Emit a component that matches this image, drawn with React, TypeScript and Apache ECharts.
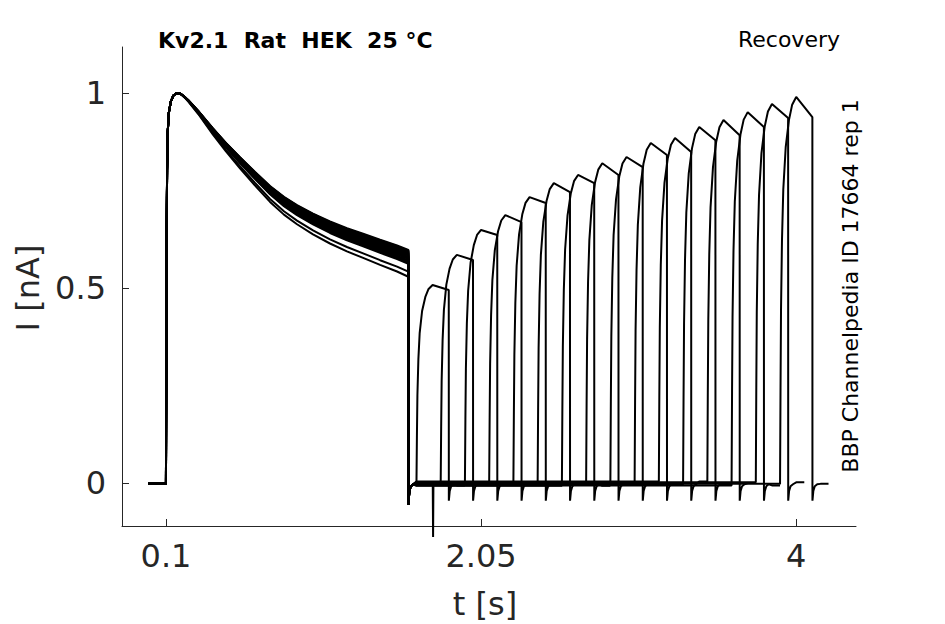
import React, { useEffect, useRef } from "react";
import * as echarts from "echarts";

// ---- axis ticks ----
const xTicks = [0.1, 2.05, 4];
const xTickLabels = ["0.1", "2.05", "4"];
const yTicks = [0, 0.5, 1];
const yTickLabels = ["0", "0.5", "1"];

// ---- first pulse (P1): shared shape of the upper band ----
const p1Time = [-0.01, 0.099, 0.1, 0.102, 0.104, 0.107, 0.111, 0.118, 0.13, 0.145, 0.165, 0.19, 0.215, 0.24, 0.3, 0.391, 0.47, 0.558, 0.65, 0.744, 0.83, 0.911, 1.01, 1.115, 1.22, 1.32, 1.425, 1.53, 1.6];
const p1Current = [-0.002, -0.002, 0, 0.3, 0.6, 0.8, 0.9, 0.95, 0.978, 0.993, 1.0, 0.998, 0.99, 0.98, 0.952, 0.905, 0.867, 0.828, 0.789, 0.751, 0.722, 0.7, 0.677, 0.656, 0.638, 0.623, 0.607, 0.592, 0.58];
// spread of each sweep at the end of P1 (nA)
const p1EndOffset = [-0.051, -0.038, -0.018, -0.012, -0.006, 0.0, 0.006, 0.012, 0.018, -0.015, -0.003, 0.009, 0.015, -0.009, 0.003, 0.016];
// tail after P1
const p1TailTime = [1.6005, 1.606, 1.615, 1.63];
const p1TailCurrent = [-0.056, -0.02, -0.008, -0.003];

// ---- recovery interval baseline per sweep ----
const baseOffset = [-0.006, -0.002, 0.002, -0.004, 0.0, 0.003, -0.007, -0.001, 0.001, -0.005, 0.004, -0.003, 0.0, -0.006, 0.002, -0.002];
const baseStart = 1.65;

// ---- second pulse (P2) per sweep ----
const p2Start = [1.65, 1.8, 1.95, 2.1, 2.25, 2.4, 2.55, 2.7, 2.85, 3.0, 3.15, 3.3, 3.45, 3.6, 3.75, 3.9];
const p2Peak = [0.508, 0.585, 0.649, 0.687, 0.733, 0.769, 0.79, 0.82, 0.836, 0.872, 0.885, 0.913, 0.931, 0.951, 0.972, 0.99];
const p2End = [0.495, 0.572, 0.636, 0.669, 0.718, 0.746, 0.769, 0.79, 0.81, 0.841, 0.849, 0.879, 0.892, 0.913, 0.936, 0.938];
const p2Duration = 0.2;
// normalised rise of P2 (time after onset, fraction of peak)
const p2RiseTime = [0, 0.003, 0.006, 0.012, 0.02, 0.035, 0.055, 0.075, 0.1];
const p2RiseFrac = [0, 0.25, 0.45, 0.63, 0.76, 0.87, 0.94, 0.98, 1.0];
// tail after P2
const p2TailTime = [0.0005, 0.006, 0.015, 0.03, 0.05];
const p2TailCurrent = [-0.045, -0.02, -0.008, -0.003, 0];
const sweepTail = 0.1;

// ---- single artefact spike ----
const spikeSweep = 6;
const spikeTime = 1.753;
const spikeCurrent = -0.138;

function buildSweep(i: number): number[][] {
  const pts: number[][] = [];
  const bandEnd = p1Current[p1Current.length - 1];
  let peakIdx = 0;
  p1Current.forEach((v, k) => {
    if (v > p1Current[peakIdx]) peakIdx = k;
  });
  p1Time.forEach((t, k) => {
    let v = p1Current[k];
    if (k >= peakIdx) v += (p1EndOffset[i] * (1 - v)) / (1 - bandEnd);
    pts.push([t, v]);
  });
  p1TailTime.forEach((t, k) => pts.push([t, p1TailCurrent[k]]));
  const b = baseOffset[i];
  const s = p2Start[i];
  pts.push([baseStart, b]);
  if (i === spikeSweep) {
    pts.push([spikeTime - 0.002, b]);
    pts.push([spikeTime, spikeCurrent]);
    pts.push([spikeTime + 0.002, b]);
  }
  p2RiseTime.forEach((dt, k) => pts.push([s + dt, b + p2RiseFrac[k] * (p2Peak[i] - b)]));
  const e = s + p2Duration;
  pts.push([e, p2End[i]]);
  p2TailTime.forEach((dt, k) => pts.push([e + dt, p2TailCurrent[k] + (k === p2TailTime.length - 1 ? b : 0)]));
  pts.push([e + sweepTail, b]);
  return pts;
}

const FONT = '"DejaVu Sans", "Liberation Sans", sans-serif';
const AXIS_COLOR = "#262626";

export default function App() {
  const ref = useRef<HTMLDivElement>(null);
  useEffect(() => {
    if (!ref.current) return;
    const chart = echarts.init(ref.current, undefined, { renderer: "svg" });
    const series = p2Start.map((_, i) => ({
      type: "line",
      data: buildSweep(i),
      showSymbol: false,
      symbol: "none",
      clip: false,
      silent: true,
      lineStyle: { color: "#000000", width: 2 },
    }));
    chart.setOption({
      animation: false,
      backgroundColor: "#ffffff",
      grid: { left: 122, right: 89, top: 47, bottom: 98 },
      xAxis: {
        type: "value",
        min: -0.172,
        max: 4.37,
        axisLine: { show: true, onZero: false, lineStyle: { color: AXIS_COLOR, width: 1 } },
        axisTick: { show: true, inside: true, length: 7, customValues: xTicks, lineStyle: { color: AXIS_COLOR } },
        axisLabel: {
          show: true,
          customValues: xTicks,
          margin: 14,
          color: AXIS_COLOR,
          fontSize: 32,
          fontFamily: FONT,
          formatter: (v: number) => {
            const k = xTicks.findIndex((t) => Math.abs(t - v) < 1e-6);
            return k >= 0 ? xTickLabels[k] : "";
          },
        },
        splitLine: { show: false },
      },
      yAxis: {
        type: "value",
        min: -0.11,
        max: 1.118,
        axisLine: { show: true, onZero: false, lineStyle: { color: AXIS_COLOR, width: 1 } },
        axisTick: { show: true, inside: true, length: 7, customValues: yTicks, lineStyle: { color: AXIS_COLOR } },
        axisLabel: {
          show: true,
          customValues: yTicks,
          margin: 16,
          color: AXIS_COLOR,
          fontSize: 32,
          fontFamily: FONT,
          formatter: (v: number) => {
            const k = yTicks.findIndex((t) => Math.abs(t - v) < 1e-6);
            return k >= 0 ? yTickLabels[k] : "";
          },
        },
        splitLine: { show: false },
      },
      graphic: [
        {
          type: "text",
          x: 158,
          y: 40,
          style: { text: "Kv2.1  Rat  HEK  25 °C", fill: "#000", fontSize: 22, fontWeight: "bold", fontFamily: FONT, align: "left", verticalAlign: "middle" },
        },
        {
          type: "text",
          x: 840,
          y: 39,
          style: { text: "Recovery", fill: "#000", fontSize: 22, fontFamily: FONT, align: "right", verticalAlign: "middle" },
        },
        {
          type: "text",
          x: 850,
          y: 286,
          rotation: Math.PI / 2,
          style: { text: "BBP Channelpedia ID 17664 rep 1", fill: "#000", fontSize: 22, fontFamily: FONT, align: "center", verticalAlign: "middle" },
        },
        {
          type: "text",
          x: 485,
          y: 604,
          style: { text: "t [s]", fill: AXIS_COLOR, fontSize: 32, fontFamily: FONT, align: "center", verticalAlign: "middle" },
        },
        {
          type: "text",
          x: 28,
          y: 288,
          rotation: Math.PI / 2,
          style: { text: "I [nA]", fill: AXIS_COLOR, fontSize: 32, fontFamily: FONT, align: "center", verticalAlign: "middle" },
        },
      ],
      series,
    });
    return () => chart.dispose();
  }, []);
  return <div ref={ref} style={{ position: "fixed", left: 0, top: 0, width: 945, height: 624, background: "#fff" }} />;
}
